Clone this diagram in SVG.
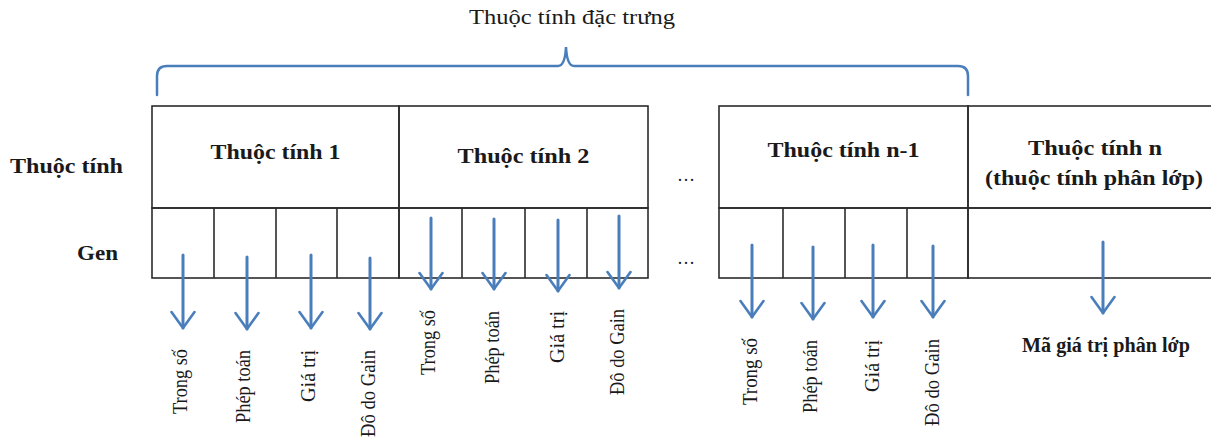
<svg xmlns="http://www.w3.org/2000/svg" width="1211" height="437" viewBox="0 0 1211 437">
<defs>
<style>
.cell{fill:none;stroke:#2b2b2b;stroke-width:1.6}
.arr{fill:none;stroke:#4a7ebb;stroke-width:3;stroke-linecap:round;stroke-linejoin:round}
.brace{fill:none;stroke:#4a7ebb;stroke-width:2.5;stroke-linecap:round}
.hd{font-family:"Liberation Serif",serif;font-size:20px;font-weight:bold;fill:#1a1a1a}
.lb{font-family:"Liberation Serif",serif;font-size:20px;fill:#1a1a1a}
.tt{font-family:"Liberation Serif",serif;font-size:20px;fill:#1a1a1a}
.dots{font-family:"Liberation Serif",serif;font-size:18px;fill:#1a1a1a}
</style>
<marker id="chev" viewBox="0 0 20 26" refX="18" refY="13" markerWidth="20" markerHeight="26" markerUnits="userSpaceOnUse" orient="auto">
<path d="M2,1.5 L18,13 L2,24.5" fill="none" stroke="#4a7ebb" stroke-width="2.6" stroke-linecap="round" stroke-linejoin="round"/>
</marker>
</defs>
<rect width="1211" height="437" fill="#ffffff"/>

<g id="title">
<text class="tt" x="572" y="24" text-anchor="middle" textLength="206" lengthAdjust="spacingAndGlyphs">Thuộc tính đặc trưng</text>
<path class="brace" d="M157,95 L157,76 Q157,66 167,66 L558,66 Q565,66 566,47 Q567,66 574,66 L958,66 Q968,66 968,76 L968,95"/>
</g>

<g id="row-labels">
<text class="hd" x="10" y="173" textLength="113" lengthAdjust="spacingAndGlyphs">Thuộc tính</text>
<text class="hd" x="77" y="260" textLength="41" lengthAdjust="spacingAndGlyphs">Gen</text>
</g>

<g id="attr1">
<rect class="cell" x="152" y="106" width="247" height="102"/>
<rect class="cell" x="152" y="208" width="247" height="70"/>
<line class="cell" x1="214" y1="208" x2="214" y2="278"/>
<line class="cell" x1="276" y1="208" x2="276" y2="278"/>
<line class="cell" x1="337" y1="208" x2="337" y2="278"/>
<text class="hd" x="275.5" y="159" text-anchor="middle" textLength="130" lengthAdjust="spacingAndGlyphs">Thuộc tính 1</text>
</g>

<g id="attr2">
<rect class="cell" x="399" y="106" width="249" height="102"/>
<rect class="cell" x="399" y="208" width="249" height="70"/>
<line class="cell" x1="462" y1="208" x2="462" y2="278"/>
<line class="cell" x1="525" y1="208" x2="525" y2="278"/>
<line class="cell" x1="587" y1="208" x2="587" y2="278"/>
<text class="hd" x="523.5" y="163" text-anchor="middle" textLength="132" lengthAdjust="spacingAndGlyphs">Thuộc tính 2</text>
</g>

<g id="ellipsis">
<text class="dots" x="686" y="181" text-anchor="middle">…</text>
<text class="dots" x="686" y="264" text-anchor="middle">…</text>
</g>

<g id="attrn1">
<rect class="cell" x="719" y="106" width="249" height="102"/>
<rect class="cell" x="719" y="208" width="249" height="70"/>
<line class="cell" x1="783" y1="208" x2="783" y2="278"/>
<line class="cell" x1="845" y1="208" x2="845" y2="278"/>
<line class="cell" x1="907" y1="208" x2="907" y2="278"/>
<text class="hd" x="843.5" y="157" text-anchor="middle" textLength="152" lengthAdjust="spacingAndGlyphs">Thuộc tính n-1</text>
</g>

<g id="attrn">
<rect class="cell" x="968" y="106" width="260" height="102"/>
<rect class="cell" x="968" y="208" width="260" height="70"/>
<text class="hd" x="1095" y="155" text-anchor="middle" textLength="134" lengthAdjust="spacingAndGlyphs">Thuộc tính n</text>
<text class="hd" x="1094" y="185" text-anchor="middle" textLength="218" lengthAdjust="spacingAndGlyphs">(thuộc tính phân lớp)</text>
</g>

<g id="connectors">
<line class="arr" x1="183" y1="255" x2="183" y2="328" marker-end="url(#chev)"/>
<line class="arr" x1="247" y1="257" x2="247" y2="329" marker-end="url(#chev)"/>
<line class="arr" x1="311" y1="255" x2="311" y2="328" marker-end="url(#chev)"/>
<line class="arr" x1="370" y1="258" x2="370" y2="329" marker-end="url(#chev)"/>
<line class="arr" x1="431" y1="218" x2="431" y2="289" marker-end="url(#chev)"/>
<line class="arr" x1="494" y1="219" x2="494" y2="289" marker-end="url(#chev)"/>
<line class="arr" x1="558" y1="220" x2="558" y2="291" marker-end="url(#chev)"/>
<line class="arr" x1="619" y1="216" x2="619" y2="288" marker-end="url(#chev)"/>
<line class="arr" x1="752" y1="245" x2="752" y2="317" marker-end="url(#chev)"/>
<line class="arr" x1="813" y1="247" x2="813" y2="319" marker-end="url(#chev)"/>
<line class="arr" x1="873" y1="245" x2="873" y2="317" marker-end="url(#chev)"/>
<line class="arr" x1="933" y1="246" x2="933" y2="317" marker-end="url(#chev)"/>
<line class="arr" x1="1103" y1="242" x2="1103" y2="313" marker-end="url(#chev)"/>
</g>

<g id="gene-labels">
<text class="lb" transform="translate(187,349) rotate(-90)" text-anchor="end" textLength="65" lengthAdjust="spacingAndGlyphs">Trong số</text>
<text class="lb" transform="translate(250,350) rotate(-90)" text-anchor="end" textLength="73" lengthAdjust="spacingAndGlyphs">Phép toán</text>
<text class="lb" transform="translate(315,350) rotate(-90)" text-anchor="end" textLength="52" lengthAdjust="spacingAndGlyphs">Giá trị</text>
<text class="lb" transform="translate(375,350) rotate(-90)" text-anchor="end" textLength="87" lengthAdjust="spacingAndGlyphs">Đô do Gain</text>

<text class="lb" transform="translate(435,310) rotate(-90)" text-anchor="end" textLength="65" lengthAdjust="spacingAndGlyphs">Trong số</text>
<text class="lb" transform="translate(499,311) rotate(-90)" text-anchor="end" textLength="73" lengthAdjust="spacingAndGlyphs">Phép toán</text>
<text class="lb" transform="translate(564,311) rotate(-90)" text-anchor="end" textLength="52" lengthAdjust="spacingAndGlyphs">Giá trị</text>
<text class="lb" transform="translate(624,309) rotate(-90)" text-anchor="end" textLength="86" lengthAdjust="spacingAndGlyphs">Đô do Gain</text>

<text class="lb" transform="translate(757,338) rotate(-90)" text-anchor="end" textLength="67" lengthAdjust="spacingAndGlyphs">Trong số</text>
<text class="lb" transform="translate(817,340) rotate(-90)" text-anchor="end" textLength="73" lengthAdjust="spacingAndGlyphs">Phép toán</text>
<text class="lb" transform="translate(879,340) rotate(-90)" text-anchor="end" textLength="52" lengthAdjust="spacingAndGlyphs">Giá trị</text>
<text class="lb" transform="translate(939,339) rotate(-90)" text-anchor="end" textLength="87" lengthAdjust="spacingAndGlyphs">Đô do Gain</text>

<text class="lb" x="1106" y="352" text-anchor="middle" font-size="16" font-weight="bold" textLength="168" lengthAdjust="spacingAndGlyphs">Mã giá trị phân lớp</text>
</g>
</svg>
